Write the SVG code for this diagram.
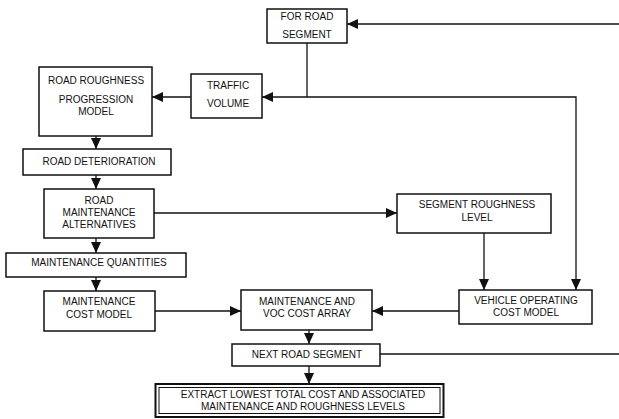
<svg xmlns="http://www.w3.org/2000/svg" width="619" height="419" viewBox="0 0 619 419">
<defs>
<marker id="ah" markerUnits="userSpaceOnUse" markerWidth="11" markerHeight="10" refX="11" refY="5" orient="auto">
<path d="M0,0 L11,5 L0,10 z" fill="#111"/>
</marker>
<style>
.box{fill:#fff;stroke:#111;stroke-width:1.5}
.ln{fill:none;stroke:#111;stroke-width:1.3}
.ar{fill:none;stroke:#111;stroke-width:1.3;marker-end:url(#ah)}
text{font-family:"Liberation Sans",Arial,sans-serif;font-size:10px;fill:#111;text-anchor:middle}
</style>
</defs>
<rect width="619" height="419" fill="#fff"/>
<g id="connectors">
<path class="ar" d="M619,24 H347"/>
<path class="ln" d="M307,43 V97"/>
<path class="ar" d="M307,97 H262"/>
<path class="ar" d="M307,97 H576 V290"/>
<path class="ar" d="M191,97 H152"/>
<path class="ar" d="M96,136 V149"/>
<path class="ar" d="M96,175 V189"/>
<path class="ar" d="M154,213 H397"/>
<path class="ar" d="M96,238 V253"/>
<path class="ar" d="M96,277 V291"/>
<path class="ar" d="M484,233 V290"/>
<path class="ar" d="M155,311 H241"/>
<path class="ar" d="M459,311 H372"/>
<path class="ar" d="M309,330 V344"/>
<path class="ln" d="M380,354 H619"/>
<path class="ar" d="M309,366 V384"/>
</g>
<g id="for-road-segment">
<rect class="box" x="267" y="9" width="80" height="34"/>
<text x="307" y="19.6">FOR ROAD</text>
<text x="307" y="37.6">SEGMENT</text>
</g>
<g id="traffic-volume">
<rect class="box" x="191" y="74" width="71" height="44"/>
<text x="228" y="88.6">TRAFFIC</text>
<text x="228" y="106.6">VOLUME</text>
</g>
<g id="road-roughness-progression-model">
<rect class="box" x="39" y="67" width="113" height="69"/>
<text x="96" y="84.3">ROAD ROUGHNESS</text>
<text x="96" y="102.6">PROGRESSION</text>
<text x="96" y="114.6">MODEL</text>
</g>
<g id="road-deterioration">
<rect class="box" x="23" y="149" width="148" height="26"/>
<text x="99" y="164.6">ROAD DETERIORATION</text>
</g>
<g id="road-maintenance-alternatives">
<rect class="box" x="44" y="189" width="110" height="49"/>
<text x="99" y="203.6">ROAD</text>
<text x="99" y="216">MAINTENANCE</text>
<text x="99" y="227.6">ALTERNATIVES</text>
</g>
<g id="segment-roughness-level">
<rect class="box" x="397" y="194" width="154" height="39"/>
<text x="477" y="208">SEGMENT ROUGHNESS</text>
<text x="477" y="221">LEVEL</text>
</g>
<g id="maintenance-quantities">
<rect class="box" x="6" y="253" width="180" height="24"/>
<text x="99" y="266.3">MAINTENANCE QUANTITIES</text>
</g>
<g id="maintenance-cost-model">
<rect class="box" x="44" y="291" width="111" height="40"/>
<text x="99" y="305.3">MAINTENANCE</text>
<text x="99" y="317.6">COST MODEL</text>
</g>
<g id="maintenance-voc-cost-array">
<rect class="box" x="241" y="290" width="131" height="40"/>
<text x="307" y="305.3">MAINTENANCE AND</text>
<text x="307" y="317">VOC COST ARRAY</text>
</g>
<g id="vehicle-operating-cost-model">
<rect class="box" x="459" y="290" width="133" height="34"/>
<text x="526" y="304.3">VEHICLE OPERATING</text>
<text x="526" y="316.3">COST MODEL</text>
</g>
<g id="next-road-segment">
<rect class="box" x="232" y="344" width="148" height="22"/>
<text x="307" y="358.2">NEXT ROAD SEGMENT</text>
</g>
<g id="extract-lowest">
<rect x="155.5" y="384" width="288" height="33" fill="#fff" stroke="#111" stroke-width="2"/>
<rect x="159" y="387.5" width="281" height="26" fill="none" stroke="#111" stroke-width="1"/>
<text x="303" y="397.6">EXTRACT LOWEST TOTAL COST AND ASSOCIATED</text>
<text x="303" y="409.6">MAINTENANCE AND ROUGHNESS LEVELS</text>
</g>
</svg>
